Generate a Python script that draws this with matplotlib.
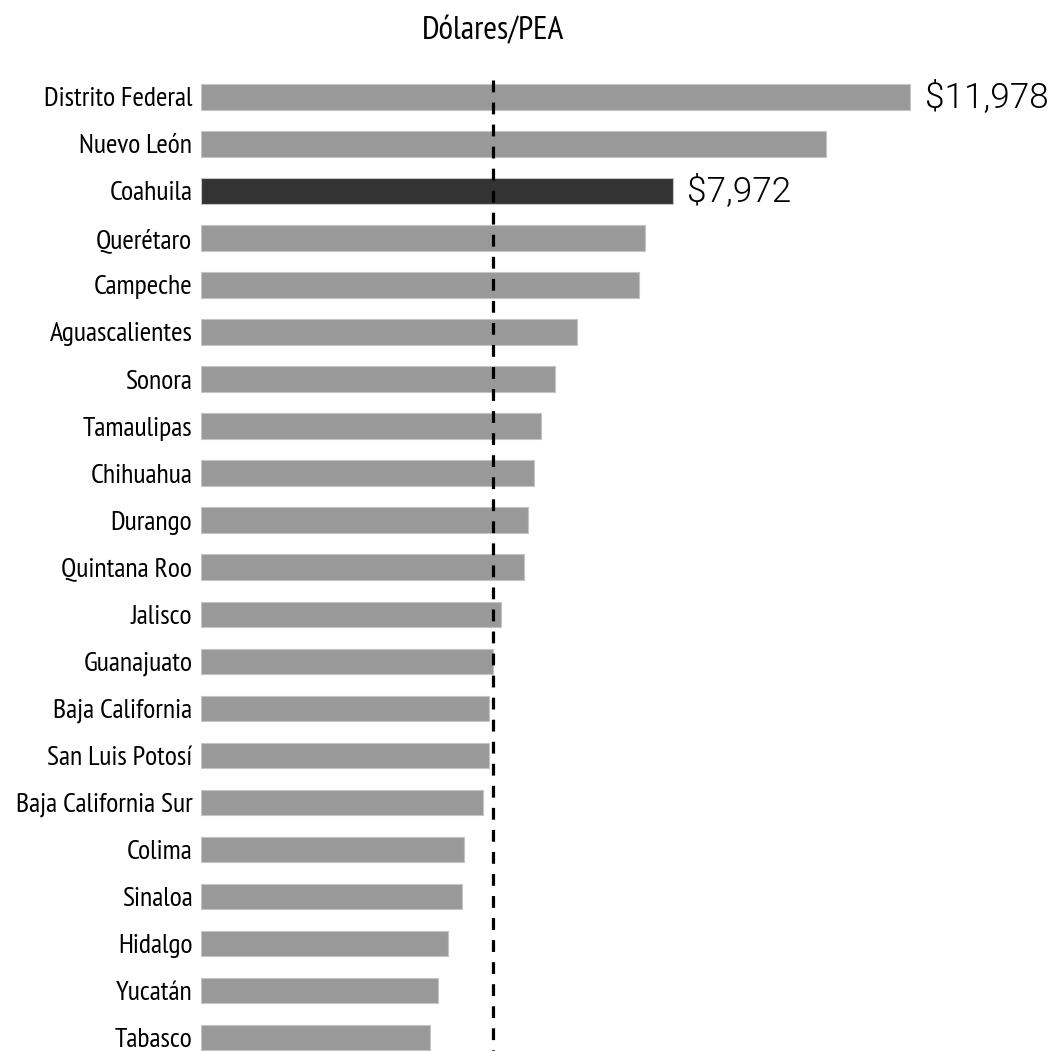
import matplotlib
matplotlib.use("Agg")
import matplotlib.pyplot as plt
from matplotlib import font_manager
from matplotlib.font_manager import FontProperties
from matplotlib.textpath import TextPath

# Dólares por PEA, por entidad federativa
estados = [ "Distrito Federal", "Nuevo León", "Coahuila", "Querétaro", "Campeche",
            "Aguascalientes", "Sonora", "Tamaulipas", "Chihuahua", "Durango",
            "Quintana Roo", "Jalisco", "Guanajuato", "Baja California", "San Luis Potosí",
            "Baja California Sur", "Colima", "Sinaloa", "Hidalgo", "Yucatán", "Tabasco" ]
valores = [ 11978, 10560, 7972, 7505, 7404,
            6351, 5990, 5754, 5625, 5529,
            5466, 5068, 4932, 4870, 4870,
            4769, 4443, 4409, 4177, 4014, 3878 ]
promedio = 4941
destacado = "Coahuila"
etiquetas = { "Distrito Federal": "$11,978", "Coahuila": "$7,972" }


def ancho( texto, prop ):
    return TextPath( ( 0, 0 ), texto, size = 1, prop = prop ).get_extents().width


def alto( texto, prop ):
    return TextPath( ( 0, 0 ), texto, size = 1, prop = prop ).get_extents().height


# fuente angosta: la de proporción ancho/altura más cercana a la buscada
def fuente_angosta( muestra = "Distrito Federal", razon = 7.4 ):
    mejor, dif = FontProperties( family = "Liberation Sans" ), None
    for f in font_manager.fontManager.ttflist:
        nombre = f.name.lower()
        angosta = ( "narrow" in nombre or "condensed" in nombre or "cond" in f.fname.lower() )
        if not angosta or f.style != "normal" or f.weight not in ( 400, "normal", "regular" ):
            continue
        try:
            fp = FontProperties( fname = f.fname )
            r = ancho( muestra, fp ) / alto( "D", fp )
        except Exception:
            continue
        if dif is None or abs( r - razon ) < dif:
            mejor, dif = fp, abs( r - razon )
    return mejor


def tam_para( texto, prop, ancho_px, tope ):
    return min( tope, ancho_px / ( ancho( texto, prop ) * 100 / 72 ) )


fp_narrow = fuente_angosta()
fp_valor = FontProperties( family = [ "Roboto", "Liberation Sans" ], weight = 300 )

W, H = 1053, 1051
fig = plt.figure( figsize = ( W / 100, H / 100 ), dpi = 100 )

# eje: arranca en x=200.7 px, 0.0592 px por dólar; primera barra en y=96.8 px, paso de 47.04 px
x0_px, escala = 200.7, 0.0592
xmax = ( W - x0_px ) / escala
y_top = ( 80 - 96.8 ) / 47.04
y_bot = ( H - 96.8 ) / 47.04
ax = fig.add_axes( [ x0_px / W, 0, 1 - x0_px / W, 1 - 80 / H ] )

pos = list( range( len( estados ) ) )
colores = [ "#333333" if e == destacado else "#999999" for e in estados ]
ax.barh( pos, valores, height = 0.54, color = colores, edgecolor = "#c4c4c4", linewidth = 0.8, zorder = 2 )

ax.plot( [ promedio, promedio ], [ y_top, y_bot ], color = "black", linewidth = 2.3,
         linestyle = ( 0, ( 3.7, 3.2 ) ), zorder = 3, dash_capstyle = "butt" )

tam_valor = tam_para( "$11,978", fp_valor, 120, 26 )
for i, e in enumerate( estados ):
    if e in etiquetas:
        ax.text( valores[ i ] + 250, i, etiquetas[ e ], va = "center", ha = "left",
                 fontproperties = fp_valor, fontsize = tam_valor, color = "black" )

tam_est = tam_para( "Distrito Federal", fp_narrow, 147, 22 )
ax.set_xlim( 0, xmax )
ax.set_ylim( y_bot, y_top )
ax.set_yticks( pos )
ax.set_yticklabels( estados )
for t in ax.get_yticklabels():
    t.set_fontproperties( fp_narrow )
    t.set_fontsize( tam_est )
ax.tick_params( axis = "y", length = 0, pad = 6 )
ax.set_xticks( [] )
for s in ax.spines.values():
    s.set_visible( False )

tam_tit = tam_para( "Dólares/PEA", fp_narrow, 169, 24 )
fig.text( 492.5 / W, 1 - 31 / H, "Dólares/PEA", ha = "center", va = "center",
          fontproperties = fp_narrow, fontsize = tam_tit )

fig.savefig( "out.png", dpi = 100 )
